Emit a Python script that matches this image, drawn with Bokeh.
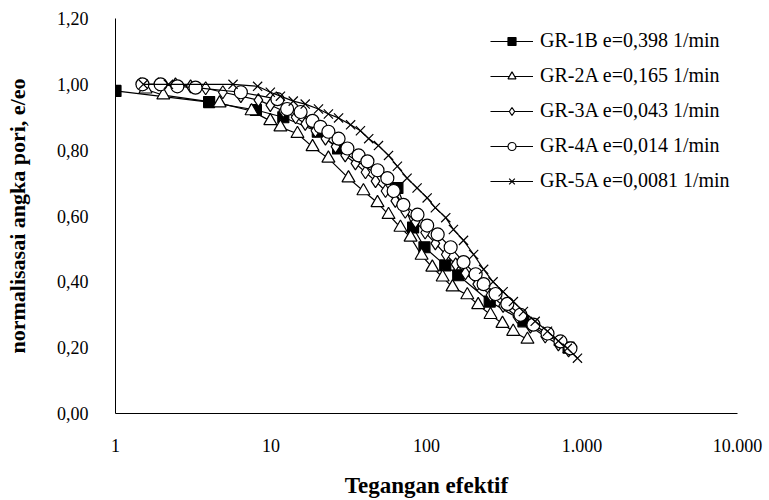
from bokeh.plotting import figure
from bokeh.models import (Range1d, FixedTicker, CustomJSTickFormatter, Legend, LegendItem)
from bokeh.embed import file_html
from bokeh.resources import INLINE

# ---- data ----
x_ticks = [1, 10, 100, 1000, 10000]
y_ticks = [0.0, 0.2, 0.4, 0.6, 0.8, 1.0, 1.2]

gr1b_label = "GR-1B e=0,398 1/min"
gr1b_x = [1, 4, 8, 12, 20, 27, 65, 82, 97, 132, 160, 255, 420, 820]
gr1b_y = [0.98, 0.946, 0.922, 0.90, 0.856, 0.805, 0.685, 0.565, 0.505, 0.45, 0.42, 0.34, 0.28, 0.20]

gr2a_label = "GR-2A e=0,165 1/min"
gr2a_x = [1.56, 2.03, 4.67, 7.5, 9.9, 11.5, 14.8, 18.5, 23.4, 31.5, 39.3, 48.4, 57, 68, 79,
          93, 109, 127, 147, 183, 215, 258, 308, 361, 446]
gr2a_y = [0.985, 0.967, 0.943, 0.919, 0.889, 0.87, 0.85, 0.81, 0.775, 0.715, 0.676, 0.64, 0.604,
          0.565, 0.535, 0.48, 0.444, 0.414, 0.384, 0.36, 0.33, 0.30, 0.273, 0.249, 0.225]

gr3a_label = "GR-3A e=0,043 1/min"
gr3a_x = [1.45, 1.89, 2.43, 3.04, 3.8, 4.9, 6.4, 8.3, 9.9, 12, 14.4, 16.6, 19.3, 22.4, 26, 30,
          34.9, 40.5, 47, 54.5, 63, 73, 85, 98, 114, 133, 154, 178, 212, 258, 311, 384, 466,
          580, 705, 820]
gr3a_y = [1.0, 1.0, 1.0, 0.994, 0.988, 0.976, 0.964, 0.952, 0.937, 0.919, 0.90, 0.88, 0.859,
          0.835, 0.811, 0.784, 0.76, 0.733, 0.706, 0.676, 0.646, 0.613, 0.583, 0.55, 0.517,
          0.483, 0.453, 0.426, 0.393, 0.36, 0.327, 0.294, 0.264, 0.234, 0.21, 0.192]

gr4a_label = "GR-4A e=0,014 1/min"
gr4a_x = [1.49, 1.95, 2.5, 3.27, 6.4, 11, 12.7, 15.5, 18.5, 20.8, 23.4, 27.2, 31, 36.6, 41.7,
          48.4, 56, 61.5, 71, 87.5, 101, 118, 143, 173, 207, 233, 278, 331, 402, 487, 600,
          727, 843]
gr4a_y = [1.0, 1.0, 0.994, 0.99, 0.976, 0.955, 0.925, 0.916, 0.889, 0.871, 0.856, 0.835, 0.805,
          0.784, 0.766, 0.739, 0.715, 0.676, 0.634, 0.604, 0.571, 0.544, 0.505, 0.46, 0.423,
          0.393, 0.363, 0.333, 0.30, 0.27, 0.243, 0.219, 0.198]

gr5a_label = "GR-5A e=0,0081 1/min"
gr5a_x = [1.51, 2.19, 5.7, 8.2, 9.9, 11.5, 13.9, 16.6, 20.2, 23.4, 27.2, 32.5, 37.6, 42.5, 49.1,
          57, 65, 75, 87, 101, 114, 133, 149, 173, 201, 233, 268, 311, 362, 420, 500, 600, 705,
          805, 935]
gr5a_y = [1.0, 1.0, 1.0, 0.994, 0.976, 0.964, 0.949, 0.94, 0.925, 0.91, 0.898, 0.877, 0.859,
          0.835, 0.814, 0.784, 0.751, 0.715, 0.685, 0.655, 0.625, 0.595, 0.559, 0.526, 0.483,
          0.438, 0.40, 0.37, 0.34, 0.31, 0.28, 0.25, 0.22, 0.198, 0.168]

x_title = "Tegangan efektif"
y_title = "normalisasai angka pori, e/eo"

SERIF = "Liberation Serif"

p = figure(width=769, height=500, x_axis_type="log", output_backend="svg",
           toolbar_location=None, x_range=Range1d(1, 10000), y_range=Range1d(0, 1.2),
           min_border_left=115, min_border_right=32, min_border_top=18, min_border_bottom=82)
p.outline_line_color = None
p.xgrid.visible = False
p.ygrid.visible = False
p.background_fill_color = "white"
p.border_fill_color = "white"

for ax in (p.xaxis[0], p.yaxis[0]):
    ax.major_tick_line_color = None
    ax.minor_tick_line_color = None
    ax.axis_line_color = "#000000"
    ax.axis_line_width = 1
    ax.major_label_text_font = SERIF
    ax.major_label_text_font_size = "18px"
    ax.major_label_text_color = "#000000"
    ax.axis_label_text_font = SERIF
    ax.axis_label_text_font_style = "bold"
    ax.axis_label_text_color = "#000000"

p.xaxis.axis_label_text_font_size = "23px"
p.yaxis.axis_label_text_font_size = "22px"

p.xaxis.ticker = FixedTicker(ticks=x_ticks, minor_ticks=[])
p.xaxis.formatter = CustomJSTickFormatter(code="""
var s = Math.round(tick).toString();
return s.replace(/\\B(?=(\\d{3})+(?!\\d))/g, '.');
""")
p.xaxis.major_label_standoff = 19
p.xaxis.axis_label = x_title
p.xaxis.axis_label_standoff = 18

p.yaxis.ticker = FixedTicker(ticks=y_ticks, minor_ticks=[])
p.yaxis.formatter = CustomJSTickFormatter(code="return tick.toFixed(2).replace('.', ',');")
p.yaxis.major_label_standoff = 21
p.yaxis.axis_label = y_title
p.yaxis.axis_label_standoff = 24

items = []

def series(xs, ys, label, marker, size, fill):
    r_line = p.line(xs, ys, line_color="black", line_width=1.2)
    r_mark = p.scatter(xs, ys, marker=marker, size=size, line_color="black",
                       fill_color=fill, line_width=1.2)
    items.append(LegendItem(label=label, renderers=[r_line, r_mark]))

series(gr1b_x, gr1b_y, gr1b_label, "square", 11, "black")
series(gr2a_x, gr2a_y, gr2a_label, "triangle", 13, "white")
series(gr3a_x, gr3a_y, gr3a_label, "diamond", 13, "white")
series(gr4a_x, gr4a_y, gr4a_label, "circle", 13, "white")
series(gr5a_x, gr5a_y, gr5a_label, "x", 13, None)

legend = Legend(items=items, location=(375, 221), orientation="vertical")
legend.border_line_color = None
legend.background_fill_alpha = 0
legend.padding = 0
legend.margin = 0
legend.spacing = 12
legend.glyph_width = 43
legend.glyph_height = 20
legend.label_height = 20
legend.label_standoff = 7
legend.label_text_font = SERIF
legend.label_text_font_size = "20px"
legend.label_text_color = "#000000"
legend.label_text_baseline = "middle"
p.add_layout(legend, "center")

open("out.html", "w").write(file_html(p, INLINE))
